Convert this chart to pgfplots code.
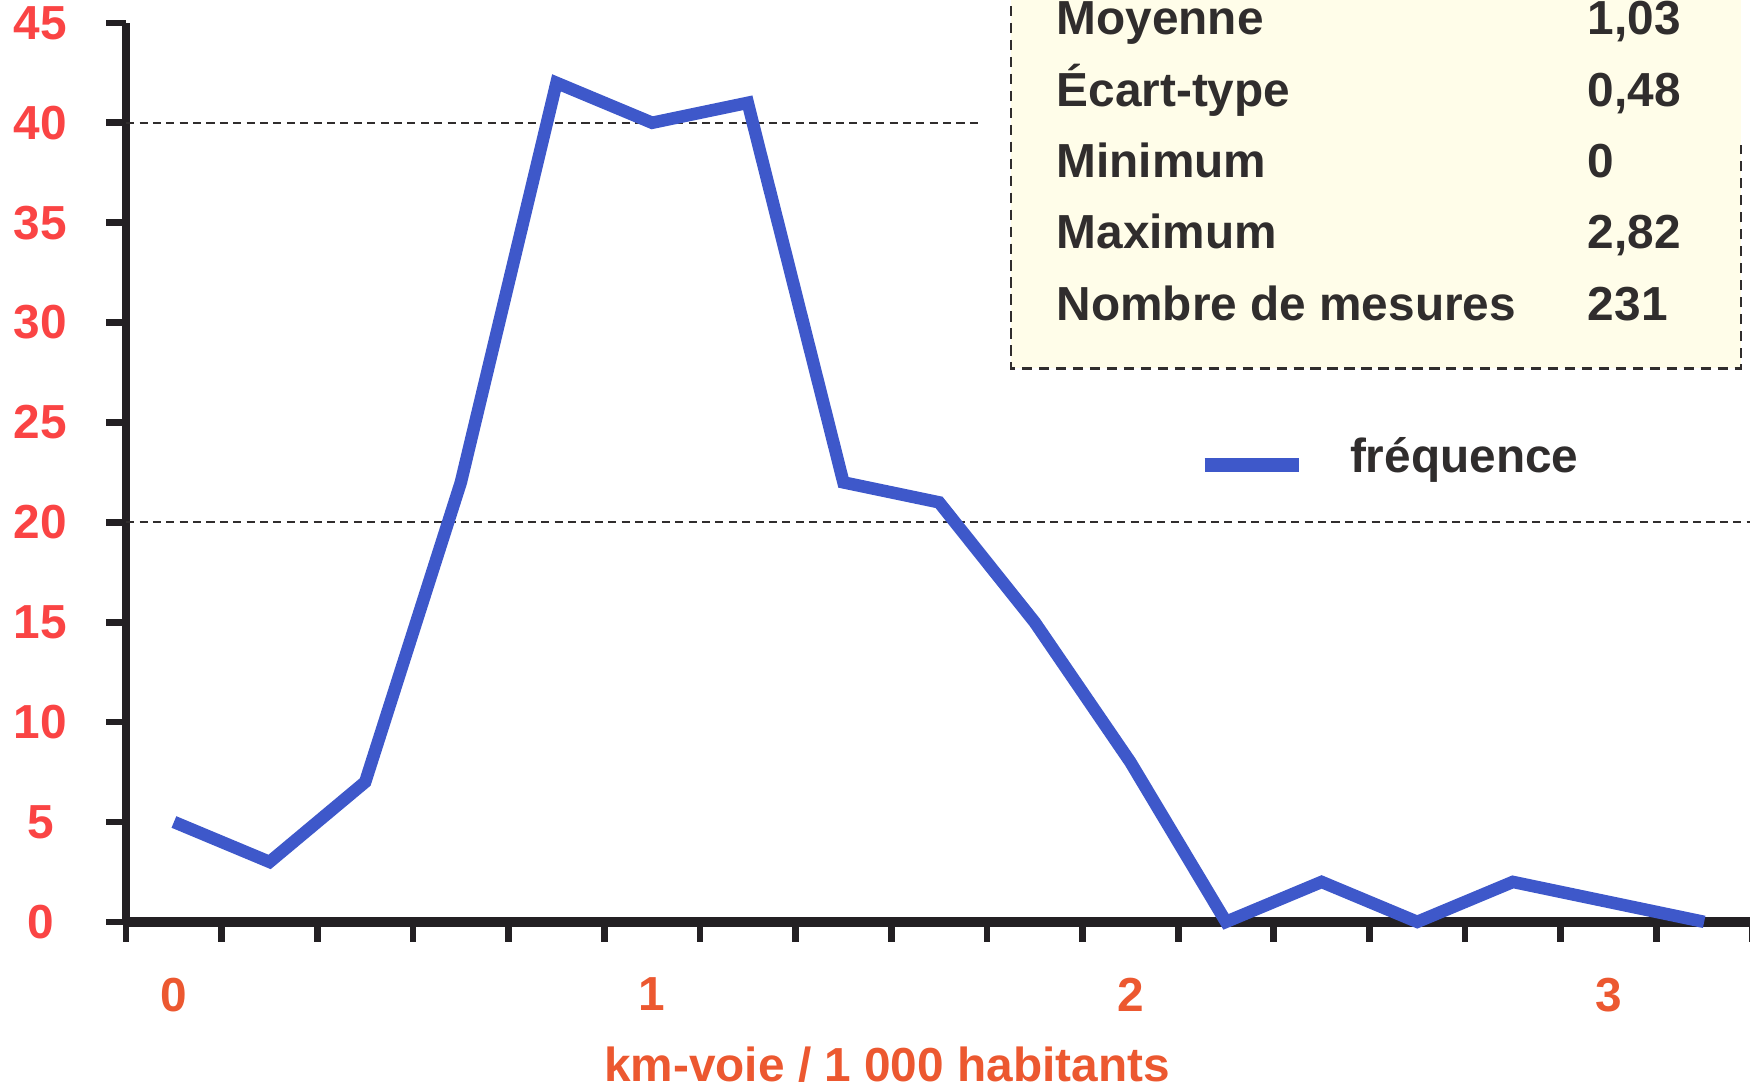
\documentclass[border=0pt]{standalone}
\usepackage{pgfplots}
\pgfplotsset{compat=1.18}
\usepackage{fontspec}
\setmainfont{Liberation Sans}
\definecolor{lineblue}{RGB}{62,88,202}
\definecolor{tickred}{RGB}{250,68,68}
\definecolor{xorange}{RGB}{236,88,48}
\definecolor{txt}{RGB}{48,45,45}
\definecolor{cream}{RGB}{255,253,233}
\definecolor{axisblack}{RGB}{35,32,35}
\begin{document}
\begin{tikzpicture}
\clip (0,0) rectangle (392pt,243.75pt);
% stats box
\fill[cream] (226.5pt,161.25pt) rectangle (390pt,250pt);
\draw[txt, line width=0.55pt, dash pattern=on 2.3pt off 1.5pt]
  (226.5pt,250pt) -- (226.5pt,161.25pt) -- (390pt,161.25pt) -- (390pt,211.25pt);
\begin{axis}[
  at={(28.25pt,37.25pt)}, anchor=south west,
  scale only axis, width=364.2pt, height=201.375pt,
  xmin=-0.1, xmax=3.3, ymin=0, ymax=45,
  axis lines=left,
  x axis line style={-, line width=2.2pt, axisblack},
  y axis line style={-, line width=1.8pt, axisblack},
  tick align=outside,
  xtick={0,1,2,3},
  minor xtick={-0.1,0.1,0.3,0.5,0.7,0.9,1.1,1.3,1.5,1.7,1.9,2.1,2.3,2.5,2.7,2.9,3.1,3.3},
  every major x tick/.append style={draw=none},
  ytick={0,5,10,15,20,25,30,35,40,45},
  major tick length=4.5pt, minor tick length=4.5pt,
  tick style={line width=1.5pt, axisblack},
  /pgf/number format/assume math mode=true,
  yticklabel style={font=\fontsize{10.7}{12}\selectfont\bfseries, text=tickred,
    text width=14pt, align=center, anchor=east, inner sep=0pt, xshift=-7.5pt},
  xticklabel style={font=\fontsize{10.7}{12}\selectfont\bfseries, text=xorange,
    anchor=north, yshift=-4.5pt},
  xlabel={km-voie / 1 000 habitants},
  xlabel style={at={(axis description cs:0.468,0)}, anchor=base, yshift=-35.7pt,
    font=\fontsize{10.7}{12}\selectfont\bfseries, text=xorange},
  legend style={at={(axis description cs:0.6585,0.508)}, anchor=west,
    draw=none, fill=none, inner sep=0pt,
    font=\fontsize{10.7}{12}\selectfont\bfseries, text=txt},
  legend image code/.code={\draw[line width=3.1pt, lineblue] (0pt,0pt) -- (21.25pt,0pt);},
  clip=false,
]
\draw[txt, line width=0.45pt, dash pattern=on 1.8pt off 1.2pt] (axis cs:-0.1,40) -- (axis cs:1.69,40);
\draw[txt, line width=0.45pt, dash pattern=on 1.8pt off 1.2pt] (axis cs:-0.1,20) -- (axis cs:3.4,20);
\addplot[lineblue, line width=2.8pt, mark=none] coordinates {
(0,5) (0.2,3) (0.4,7) (0.6,22) (0.8,42) (1.0,40) (1.2,41) (1.4,22) (1.6,21)
(1.8,15) (2.0,8) (2.2,0) (2.4,2) (2.6,0) (2.8,2) (3.0,1) (3.2,0)
};
\addlegendentry{\hspace{7.8pt}\raisebox{3pt}{fréquence}}
\end{axis}
\begin{scope}[every node/.style={anchor=base west, inner sep=0pt, text=txt,
   font=\fontsize{10.7}{12}\selectfont\bfseries}]
\node at (236.5pt,236pt) {Moyenne};
\node at (236.5pt,220pt) {Écart-type};
\node at (236.5pt,204pt) {Minimum};
\node at (236.5pt,188pt) {Maximum};
\node at (236.5pt,172pt) {Nombre de mesures};
\node at (355.5pt,236pt) {1,03};
\node at (355.5pt,220pt) {0,48};
\node at (355.5pt,204pt) {0};
\node at (355.5pt,188pt) {2,82};
\node at (355.5pt,172pt) {231};
\end{scope}
\end{tikzpicture}
\end{document}
